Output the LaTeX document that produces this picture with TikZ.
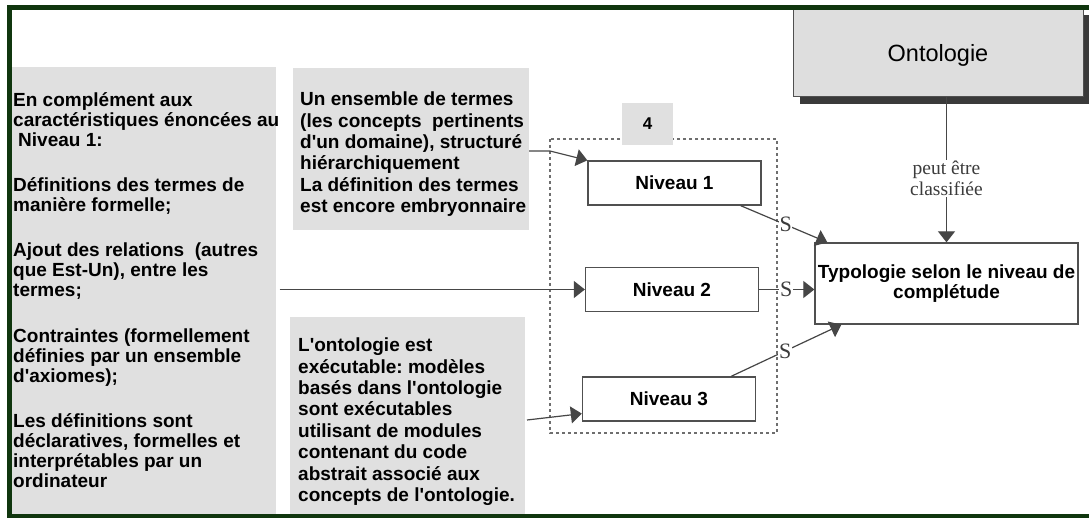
\documentclass[tikz,border=0pt]{standalone}
\usepackage{fontspec}
\setmainfont{Liberation Sans}[Ligatures=TeXOff]
\newfontfamily\serifface{Liberation Serif}[Ligatures=TeXOff]
\usetikzlibrary{arrows.meta,calc,shadows}
\frenchspacing

\definecolor{boxgray}{RGB}{224,224,224}
\definecolor{ontgray}{RGB}{222,222,222}
\definecolor{shadowgray}{RGB}{58,58,58}
\definecolor{edgegray}{RGB}{80,80,80}
\definecolor{linegray}{RGB}{70,70,70}
\definecolor{dashgray}{RGB}{110,110,110}
\definecolor{labelgray}{RGB}{60,60,60}
\definecolor{framegreen}{RGB}{16,54,14}

\tikzset{
  greybox/.style={fill=boxgray, draw=none},
  notetext/.style={anchor=north west, inner sep=0pt, align=left,
    font=\bfseries\fontsize{19}{20}\selectfont},
  notetextwide/.style={notetext, font=\bfseries\fontsize{19}{21.4}\selectfont},
  levelbox/.style={draw=edgegray, line width=1.3pt, fill=white,
    minimum width=173pt, minimum height=44pt, inner sep=0pt,
    font=\bfseries\fontsize{19}{20}\selectfont},
  link/.style={draw=linegray, line width=1.2pt,
    -{Triangle[length=11pt,width=17pt]}},
  slabel/.style={fill=white, inner sep=0.6pt, text=labelgray,
    font=\serifface\fontsize{22}{22}\selectfont},
}

\begin{document}
\begin{tikzpicture}[x=1pt,y=-1pt]
\useasboundingbox (0,0) rectangle (1089,518);
\fill[white] (0,0) rectangle (1089,518);

% grey text panels
\fill[greybox] (12,67) rectangle (276,514);
\fill[greybox] (293,68) rectangle (529,230);
\fill[greybox] (290,317) rectangle (525,516);

\node[notetext] (lefttxt) at (13,92.5) {\strut En complément aux\\
caractéristiques énoncées au\\
\hspace{5pt}Niveau 1:\\[25pt]
Définitions des termes de\\
manière formelle;\\[25pt]
Ajout des relations\ \ (autres\\
que Est-Un), entre les\\
termes;\\[26pt]
Contraintes (formellement\\
définies par un ensemble\\
d'axiomes);\\[25pt]
Les définitions sont\\
déclaratives, formelles et\\
interprétables par un\\
ordinateur};

\node[notetextwide] (toptxt) at (300,90.5) {\strut Un ensemble de termes\\
(les concepts\ \ pertinents\\
d'un domaine), structuré\\
hiérarchiquement\\
La définition des termes\\
est encore embryonnaire};

\node[notetextwide] (bottxt) at (298,336.5) {\strut L'ontologie est\\
exécutable: modèles\\
basés dans l'ontologie\\
sont exécutables\\
utilisant de modules\\
contenant du code\\
abstrait associé aux\\
concepts de l'ontologie.};

% dotted group around the three levels
\draw[dashgray, line width=1.5pt, dash pattern=on 3pt off 3pt] (550,139) rectangle (777,433);
\node[greybox, minimum width=51pt, minimum height=42pt, inner sep=0pt,
  font=\bfseries\fontsize{17}{17}\selectfont] (four) at (647.5,124) {4};

% levels
\node[levelbox] (n1) at (674.5,183) {Niveau 1};
\node[levelbox] (n2) at (672,289.5) {Niveau 2};
\node[levelbox] (n3) at (669,399) {Niveau 3};

% typology and ontology boxes
\node[draw=edgegray, line width=1.3pt, fill=white, minimum width=263pt,
  minimum height=81pt, inner sep=0pt, align=center,
  font=\bfseries\fontsize{19}{20}\selectfont] (typ) at (946.5,283.5)
  {Typologie selon le niveau de\\complétude};

\node[draw=edgegray, line width=1pt, fill=ontgray, minimum width=290pt,
  minimum height=89pt, inner sep=0pt,
  drop shadow={shadow xshift=7pt, shadow yshift=-7pt, fill=shadowgray, opacity=1}]
  (ont) at (938,52.5) {};
\node[font=\fontsize{23.5}{24}\selectfont, inner sep=0pt] (ontlabel) at (938,55) {Ontologie};

% connectors into the levels
\coordinate (topout) at (529,151);
\coordinate (botout) at (527,420);
\draw[link] (topout) -- ++(21,0) -- (n1.north west);
\draw[link] (lefttxt.east |- n2.west) -- (n2.west);
\draw[link] (botout) -- ($(n3.south west)+(0,-8)$);

% connectors from the levels to the typology
\draw[link] ($(n1.south east)+(-21,0)$) -- node[slabel, pos=0.52] {S} ($(typ.north west)+(13,0)$);
\draw[link] (n2.east) -- node[slabel, pos=0.49] {S} (typ.west |- n2.east);
\draw[link] ($(n3.north east)+(-25,0)$) -- node[slabel, pos=0.49] {S} ($(typ.south west)+(27,0)$);

% ontology classified into the typology
\draw[link] (typ.north |- ont.south) -- node[fill=white, inner sep=1pt, align=center,
  text=labelgray, font=\serifface\fontsize{19.5}{21}\selectfont, pos=0.56]
  {peut être\\classifiée} (typ.north);

% outer frame
\draw[framegreen, line width=5pt] (1092,7.5) -- (9.5,7.5) -- (9.5,516.5) -- (1092,516.5);
\end{tikzpicture}
\end{document}
